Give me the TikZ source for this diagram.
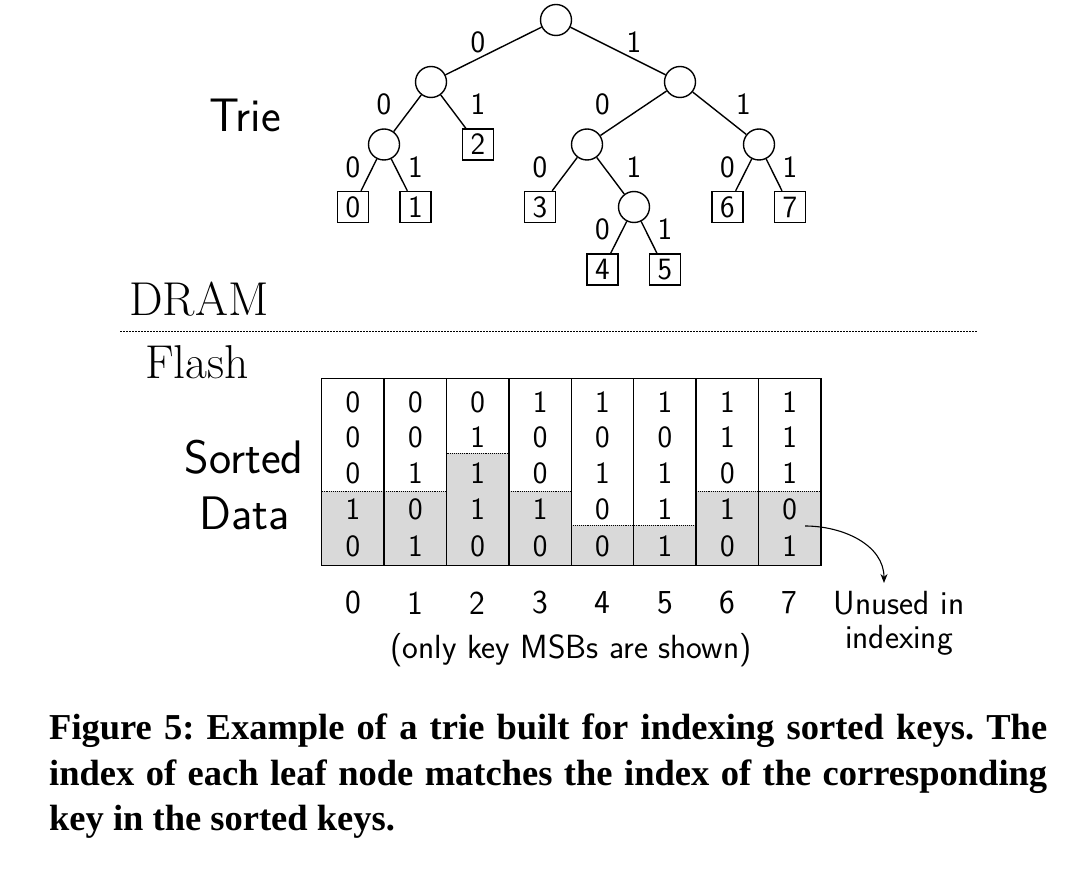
\documentclass[tikz,border=0pt]{standalone}
\usepackage{fontspec}
\newfontfamily\capfont{Liberation Serif}
\usetikzlibrary{arrows.meta}
\tikzset{
  tnode/.style={circle,draw,line width=1.4pt,minimum size=31pt,inner sep=0pt},
  tleaf/.style={rectangle,draw,line width=1.4pt,minimum size=31pt,inner sep=0pt,font=\sffamily\fontsize{31}{33}\selectfont},
  tedge/.style={line width=1.4pt},
  elab/.style={inner sep=0pt,font=\sffamily\fontsize{31}{33}\selectfont},
  bitdigit/.style={inner sep=0pt,font=\sffamily\fontsize{31}{33}\selectfont},
  idxtxt/.style={inner sep=0pt,font=\sffamily\fontsize{33.5}{36}\selectfont},
  bigtxt/.style={inner sep=0pt,font=\sffamily\fontsize{47}{50}\selectfont},
  sertxt/.style={inner sep=0pt,font=\rmfamily\fontsize{47.5}{50}\selectfont,anchor=base west},
  captxt/.style={inner sep=0pt,anchor=base west,font=\capfont\bfseries\fontsize{36.5}{40}\selectfont\frenchspacing},
}
\begin{document}
\begin{tikzpicture}[x=1pt,y=-1pt]
\useasboundingbox (0,0) rectangle (1090,882);
% --- trie ---
\node[tnode] (r) at (556,20) {};
\node[tnode] (n0) at (431,82) {};
\node[tnode] (n1) at (680,82) {};
\node[tnode] (n00) at (384,144.5) {};
\node[tleaf] (l2) at (478,144.5) {2};
\node[tnode] (n10) at (587,144.5) {};
\node[tnode] (n11) at (759,144.5) {};
\node[tleaf] (l0) at (353,207) {0};
\node[tleaf] (l1) at (415.5,207) {1};
\node[tleaf] (l3) at (540,207) {3};
\node[tnode] (n101) at (634,207) {};
\node[tleaf] (l6) at (727.5,207) {6};
\node[tleaf] (l7) at (790,207) {7};
\node[tleaf] (l4) at (602.5,269.5) {4};
\node[tleaf] (l5) at (665,269.5) {5};
\foreach \a/\b in {r/n0,r/n1,n0/n00,n0/l2,n1/n10,n1/n11,n00/l0,n00/l1,n10/l3,n10/n101,n11/l6,n11/l7,n101/l4,n101/l5}
  \draw[tedge] (\a) -- (\b);
% edge labels
\node[elab] (e1) at (478,42) {0};
\node[elab] (e2) at (634,42) {1};
\node[elab] (e3) at (384,104.5) {0};
\node[elab] (e4) at (478,104.5) {1};
\node[elab] (e5) at (602.5,104.5) {0};
\node[elab] (e6) at (743.5,104.5) {1};
\node[elab] (e7) at (353,167) {0};
\node[elab] (e8) at (415.5,167) {1};
\node[elab] (e9) at (540,167) {0};
\node[elab] (e10) at (634,167) {1};
\node[elab] (e11) at (727.5,167) {0};
\node[elab] (e12) at (790,167) {1};
\node[elab] (e13) at (602.5,229.5) {0};
\node[elab] (e14) at (665,229.5) {1};
% labels
\node[bigtxt] (trie) at (245,115) {Trie};
\node[sertxt] (dram) at (129,316) {DRAM};
\node[sertxt] (flash) at (145,379) {Flash};
\draw[dash pattern=on 2pt off 1pt,line width=0.9pt] (120,331.7) -- (977,331.7);
\node[bigtxt] (sorted) at (244,457) {Sorted};
\node[bigtxt] (data) at (245,513) {Data};
% --- sorted data grid ---
\def\gx{321.7}\def\gw{62.4}\def\gt{378.3}\def\gb{565.7}
\foreach \i/\t in {0/491,1/491,2/453,3/491,4/525,5/525,6/491,7/491}{
  \fill[gray!30] ({\gx+\i*\gw},\t) rectangle ({\gx+(\i+1)*\gw},\gb);
  \draw[densely dotted,line width=0.9pt] ({\gx+\i*\gw},\t) -- ({\gx+(\i+1)*\gw},\t);
}
\draw[line width=1.5pt] (\gx,\gt) rectangle ({\gx+8*\gw},\gb);
\foreach \i in {1,...,7}
  \draw[line width=1.5pt] ({\gx+\i*\gw},\gt) -- ({\gx+\i*\gw},\gb);
\foreach \i/\bits in {0/{0,0,0,1,0},1/{0,0,1,0,1},2/{0,1,1,1,0},3/{1,0,0,1,0},4/{1,0,1,0,0},5/{1,0,1,1,1},6/{1,1,0,1,0},7/{1,1,1,0,1}}{
  \foreach \b [count=\j] in \bits {
    \pgfmathsetmacro{\yy}{{402,437,473,509.5,546}[\j-1]}
    \node[bitdigit] (c-\i-\j) at ({\gx+(\i+0.5)*\gw},\yy) {\b};
  }
  \node[idxtxt] (ix-\i) at ({\gx+(\i+0.5)*\gw},603) {\i};
}
\node[idxtxt] (only) at (571,650) {(only key MSBs are shown)};
\node[idxtxt] (unused) at (899,603) {Unused in};
\node[idxtxt] (indexing) at (899,640) {indexing};
\coordinate (a0) at (805,526);
\coordinate (a1) at (884,583);
\draw[line width=1.1pt,-{Stealth[length=9pt,width=7pt]}] (a0) to[out=0,in=90] (a1);
% --- caption ---
\node[captxt] (cap1) at (49,739) {\makebox[998pt][s]{Figure 5: Example of a trie built for indexing sorted keys. The}};
\node[captxt] (cap2) at (49,785) {\makebox[998pt][s]{index of each leaf node matches the index of the corresponding}};
\node[captxt] (cap3) at (49,830) {key in the sorted keys.};
\end{tikzpicture}
\end{document}
